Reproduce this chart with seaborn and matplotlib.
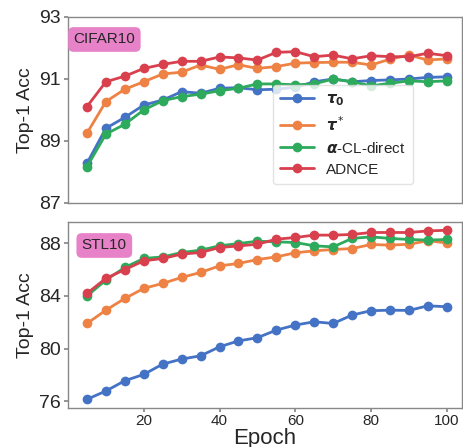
import numpy as np
import pandas as pd
import matplotlib
matplotlib.use('Agg')
import matplotlib.pyplot as plt
import seaborn as sns

# --- data ---
epochs = list(range(5, 101, 5))

cifar_tau0 = [88.28, 89.41, 89.76, 90.16, 90.32, 90.59, 90.54, 90.70, 90.72, 90.65,
              90.67, 90.73, 90.91, 91.00, 90.91, 90.95, 90.97, 91.00, 91.05, 91.07]
cifar_taustar = [89.25, 90.27, 90.67, 90.91, 91.16, 91.22, 91.45, 91.31, 91.46, 91.34,
                 91.40, 91.51, 91.53, 91.54, 91.54, 91.45, 91.64, 91.77, 91.61, 91.65]
cifar_alpha = [88.17, 89.22, 89.54, 90.00, 90.30, 90.43, 90.51, 90.62, 90.70, 90.84,
               90.84, 90.81, 90.84, 91.00, 90.91, 90.78, 90.86, 90.94, 90.91, 90.94]
cifar_adnce = [90.11, 90.91, 91.09, 91.34, 91.47, 91.57, 91.57, 91.71, 91.68, 91.61,
               91.86, 91.88, 91.72, 91.77, 91.65, 91.75, 91.72, 91.72, 91.83, 91.75]

stl_tau0 = [76.16, 76.79, 77.57, 78.05, 78.83, 79.21, 79.46, 80.14, 80.59, 80.83,
            81.41, 81.79, 82.04, 81.91, 82.55, 82.88, 82.92, 82.90, 83.25, 83.18]
stl_taustar = [81.91, 82.92, 83.81, 84.57, 84.95, 85.40, 85.78, 86.28, 86.46, 86.76,
               86.96, 87.27, 87.42, 87.52, 87.59, 87.90, 87.85, 87.92, 88.18, 88.02]
stl_alpha = [84.00, 85.20, 86.16, 86.84, 86.96, 87.29, 87.47, 87.80, 87.97, 88.15,
             88.10, 88.05, 87.80, 87.72, 88.36, 88.48, 88.36, 88.28, 88.23, 88.28]
stl_adnce = [84.19, 85.33, 86.00, 86.66, 86.84, 87.17, 87.29, 87.67, 87.79, 87.92,
             88.30, 88.43, 88.61, 88.61, 88.66, 88.81, 88.81, 88.81, 88.93, 88.98]

methods = [r'$\boldsymbol{\tau}_{\mathbf{0}}$', r'$\boldsymbol{\tau}^*$',
           r'$\boldsymbol{\alpha}$-CL-direct', 'ADNCE']
colors = ['#4472c4', '#ee8144', '#2eaa5c', '#d8404e']


def to_long(series):
    frames = []
    for name, vals in zip(methods, series):
        frames.append(pd.DataFrame({'Epoch': epochs, 'Acc': vals, 'Method': name}))
    return pd.concat(frames, ignore_index=True)


cifar = to_long([cifar_tau0, cifar_taustar, cifar_alpha, cifar_adnce])
stl = to_long([stl_tau0, stl_taustar, stl_alpha, stl_adnce])

sns.set_theme(style='white')
plt.rcParams['font.family'] = ['Liberation Sans', 'DejaVu Sans']
plt.rcParams['mathtext.fontset'] = 'dejavusans'

fig = plt.figure(figsize=(4.64, 4.47), dpi=100)
ax1 = fig.add_axes([0.1466, 0.546, 0.849, 0.416])
ax2 = fig.add_axes([0.1466, 0.0872, 0.849, 0.416])

palette = dict(zip(methods, colors))
for ax, df, legend in [(ax1, cifar, True), (ax2, stl, False)]:
    sns.lineplot(data=df, x='Epoch', y='Acc', hue='Method', palette=palette,
                 marker='o', markersize=7, markeredgewidth=0, linewidth=2,
                 ax=ax, legend=legend)
    ax.set_xlim(0, 104)
    for s in ax.spines.values():
        s.set_color('#888888')
        s.set_linewidth(1.0)
    ax.tick_params(axis='y', labelsize=14, length=3, color='#888888', left=True, pad=2)
    ax.set_ylabel('Top-1 Acc', fontsize=14, labelpad=4)

# top panel
ax1.set_ylim(87, 93)
ax1.set_yticks([87, 89, 91, 93])
ax1.set_xticks([20, 40, 60, 80, 100])
ax1.tick_params(axis='x', bottom=False, labelbottom=False)
ax1.set_xlabel('')
ax1.text(0.014, 0.879, 'CIFAR10', transform=ax1.transAxes, fontsize=11, va='center',
         ha='left', bbox=dict(boxstyle='round,pad=0.35', fc='#e882c8', ec='none'))
ax1.legend(loc='lower left', bbox_to_anchor=(0.5, 0.06), fontsize=11, frameon=True,
           handlelength=2.2, borderpad=0.5, labelspacing=0.45, edgecolor='#dddddd')

# bottom panel
ax2.set_ylim(75.5, 89.6)
ax2.set_yticks([76, 80, 84, 88])
ax2.set_xticks([20, 40, 60, 80, 100])
ax2.tick_params(axis='x', labelsize=11, length=3, color='#888888', bottom=True, pad=1)
ax2.set_xlabel('Epoch', fontsize=16, labelpad=0)
ax2.text(0.035, 0.874, 'STL10', transform=ax2.transAxes, fontsize=11, va='center',
         ha='left', bbox=dict(boxstyle='round,pad=0.35', fc='#e882c8', ec='none'))

fig.savefig('out.png', dpi=100)
